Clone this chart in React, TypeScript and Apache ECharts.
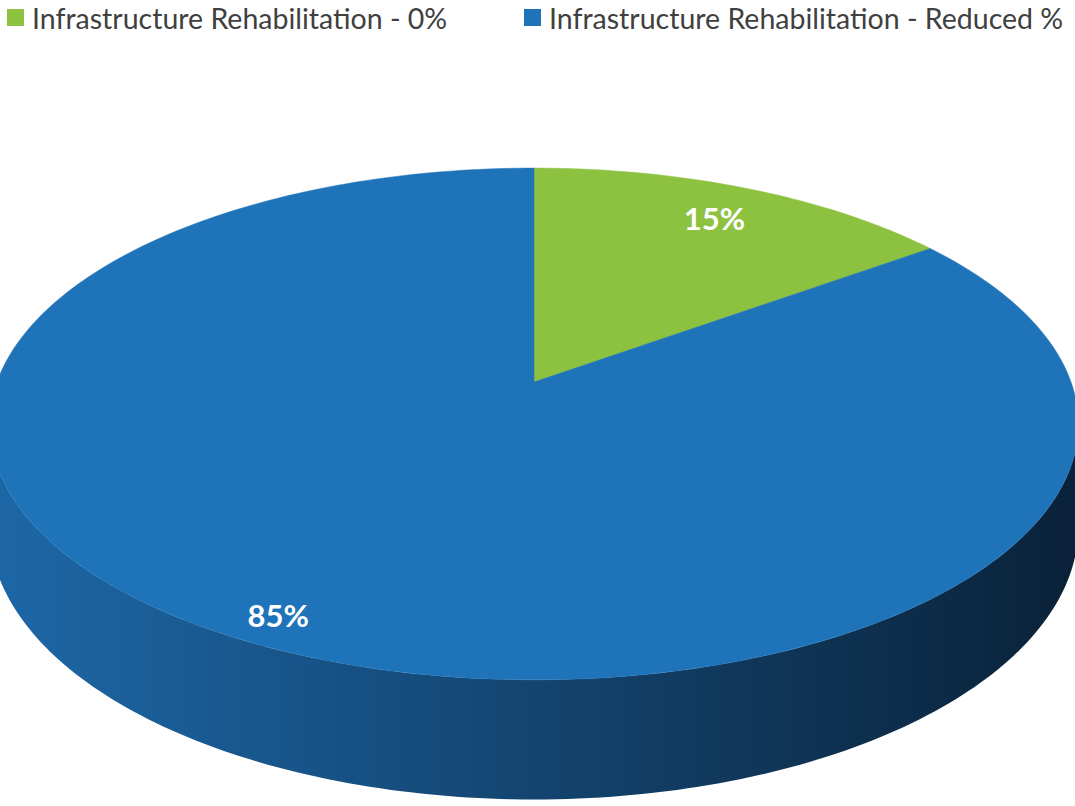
import React, { useEffect, useRef } from 'react';
import * as echarts from 'echarts';

const sliceNames = ['Infrastructure Rehabilitation - 0%', 'Infrastructure Rehabilitation - Reduced %'];
const sliceValues = [15, 85];
const sliceColors = ['#8DC140', '#1F74B9'];
const sideStops = [
  ['#6E9A32', '#3B5419'],
  ['#1D67A7', '#0A2239'],
];
const labelRadius = [0.83, 0.91];

// projection (layout) constants
const CX = 534;
const CY = 382;
const RX = 537;
const RY = 249;
const K = 0.164;
const DEPTH = 100;

function proj(theta: number, f: number, depth: number): number[] {
  const u = f * Math.sin(theta);
  const v = f * Math.cos(theta);
  const d = 1 + K * v;
  return [CX + (RX * u) / d, CY - (RY * v) / d + depth / d];
}

function arcPoints(a0: number, a1: number, f: number, depth: number): number[][] {
  const pts: number[][] = [];
  const n = Math.max(2, Math.ceil(((a1 - a0) * 180) / Math.PI));
  for (let i = 0; i <= n; i++) {
    pts.push(proj(a0 + ((a1 - a0) * i) / n, f, depth));
  }
  return pts;
}

export default function App() {
  const ref = useRef<HTMLDivElement>(null);
  useEffect(() => {
    document.body.style.margin = '0';
    const chart = echarts.init(ref.current as HTMLDivElement, null, { renderer: 'svg' });
    const total = sliceValues.reduce((a, b) => a + b, 0);
    const tL = Math.acos(-K);
    const tR = 2 * Math.PI - tL;
    let acc = 0;
    const series = sliceValues.map((val, i) => {
      const start = (acc / total) * 2 * Math.PI;
      acc += val;
      return {
        type: 'custom',
        name: sliceNames[i],
        coordinateSystem: 'none',
        itemStyle: { color: sliceColors[i] },
        data: [[val]],
        renderItem: (params: any, api: any) => {
          const value = api.value(0) as number;
          const end = start + (value / total) * 2 * Math.PI;
          const children: any[] = [];
          const s = Math.max(start, tL);
          const e = Math.min(end, tR);
          if (s < e) {
            const top = arcPoints(s, e, 1, 0);
            const bottom = arcPoints(s, e, 1, DEPTH).reverse();
            children.push({
              type: 'polygon',
              z2: 1,
              shape: { points: top.concat(bottom) },
              style: {
                fill: new echarts.graphic.LinearGradient(
                  CX - RX,
                  0,
                  CX + RX,
                  0,
                  [
                    { offset: 0, color: sideStops[i][0] },
                    { offset: 1, color: sideStops[i][1] },
                  ],
                  true
                ),
                stroke: null,
              },
            });
          }
          const face = [proj(0, 0, 0)].concat(arcPoints(start, end, 1, 0));
          children.push({
            type: 'polygon',
            z2: 10,
            shape: { points: face },
            style: { fill: sliceColors[i], stroke: sliceColors[i], lineWidth: 0.5 },
          });
          const mid = (start + end) / 2;
          const lp = proj(mid, labelRadius[i], 0);
          children.push({
            type: 'text',
            z2: 20,
            style: {
              text: value + '%',
              x: lp[0],
              y: lp[1],
              fill: '#FFFFFF',
              fontSize: 31,
              fontWeight: 'bold',
              fontFamily: 'Lato',
              align: 'center',
              verticalAlign: 'middle',
            },
          });
          return { type: 'group', children };
        },
      };
    });

    const legendBase = {
      icon: 'rect',
      itemWidth: 17,
      itemHeight: 17,
      padding: 0,
      selectedMode: false,
      textStyle: { fontSize: 28.5, color: '#404040', fontFamily: 'Lato', padding: [0, 0, 0, 3] },
    };

    chart.setOption({
      animation: false,
      backgroundColor: '#FFFFFF',
      legend: [
        { ...legendBase, data: [sliceNames[0]], left: 7, top: 3 },
        { ...legendBase, data: [sliceNames[1]], left: 524, top: 3 },
      ],
      series,
    } as any);
    return () => chart.dispose();
  }, []);
  return <div ref={ref} style={{ width: 1075, height: 806 }} />;
}
